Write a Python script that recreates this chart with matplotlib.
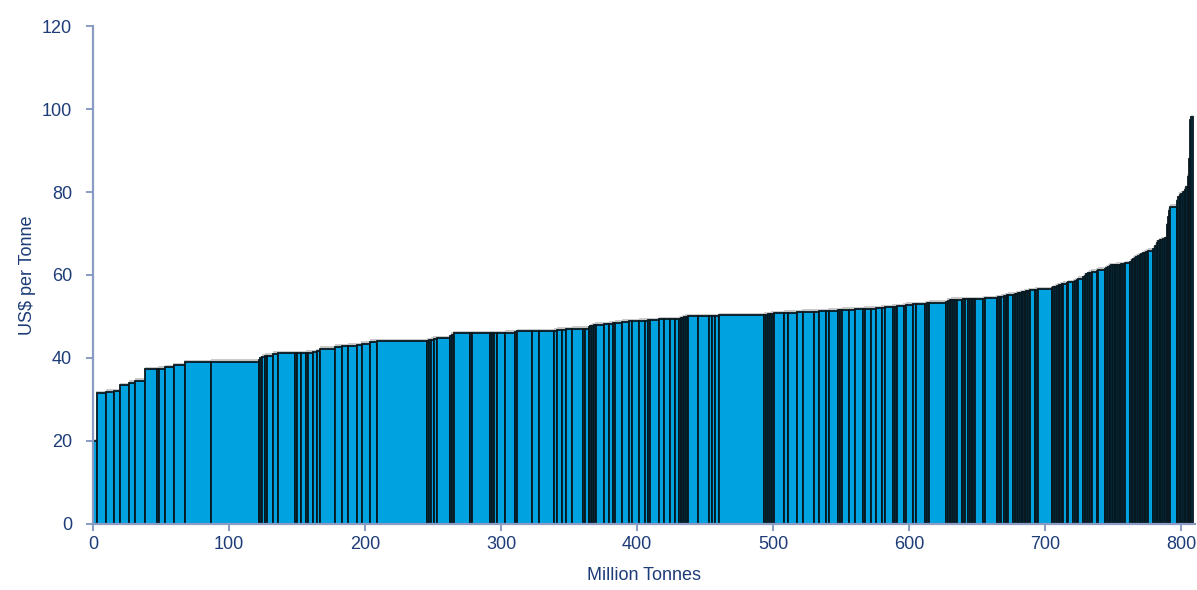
import numpy as np
import matplotlib
matplotlib.use("Agg")
import matplotlib.pyplot as plt

# Cumulative capacity (right edge of each bar, Million Tonnes) and cash cost (US$ per Tonne)
cum_capacity = [
    2.6, 9.6, 15.7, 19.9, 26.8, 31.2, 38.2, 47.0, 48.2, 53.1, 59.3, 67.4, 87.0, 122.0, 122.8,
    124.5, 126.5, 128.0, 132.6, 136.3, 148.5, 150.0, 152.7, 156.6, 158.0, 161.5, 164.5, 166.9,
    177.9, 182.9, 187.7, 193.9, 197.5, 203.7, 208.6, 245.6, 247.0, 248.5, 250.5, 253.0, 262.7,
    263.8, 265.2, 277.4, 279.0, 292.0, 293.2, 294.5, 297.1, 303.2, 310.5, 311.8, 322.8, 328.0,
    339.0, 341.4, 344.9, 347.6, 352.4, 360.0, 362.0, 364.7, 365.8, 367.0, 368.3, 369.6, 376.0,
    379.4, 382.5, 384.0, 389.2, 394.0, 396.0, 401.5, 406.0, 408.0, 409.5, 416.2, 420.0, 424.0,
    428.0, 430.9, 432.0, 433.2, 434.4, 435.8, 437.3, 445.0, 453.2, 455.0, 457.5, 460.5, 493.6,
    495.0, 496.0, 497.5, 499.0, 501.0, 508.0, 511.0, 518.0, 521.8, 530.0, 534.0, 539.0,
    541.0, 548.0, 549.5, 551.0, 556.0, 560.0, 566.0, 567.5, 572.0, 576.0, 580.0, 582.0, 588.0,
    589.5, 591.0, 596.0, 598.0, 603.0, 605.0, 612.0, 613.5, 615.0, 627.0, 628.5, 630.0,
    631.0, 632.5, 634.0, 635.0, 638.7, 639.8, 641.0, 643.5, 644.8, 646.0, 647.3, 648.5, 654.6,
    655.8, 664.4, 665.5, 666.8, 668.0, 669.5, 671.0, 672.0, 673.0, 676.6, 677.8, 679.0, 680.2,
    681.5, 682.8, 684.0, 685.0, 686.2, 687.8, 689.0, 692.6, 693.6, 694.8, 705.0, 706.2, 707.5,
    708.8, 710.0, 711.2, 712.4, 713.4, 715.9, 717.0, 720.8, 722.0, 723.2, 724.4, 728.0, 729.2,
    730.4, 731.6, 732.8, 734.2, 737.9, 739.1, 744.0, 745.2, 746.4, 747.6, 748.8, 750.0, 751.2,
    752.4, 753.6, 755.0, 756.2, 757.4, 758.7, 762.4, 763.6, 764.8, 766.0, 767.2, 768.4, 769.6,
    770.8, 772.0, 773.2, 774.6, 775.9, 779.6, 780.8, 782.0, 783.2, 784.4, 785.6, 787.0, 788.2,
    789.4, 790.4, 791.0, 791.8, 796.7, 797.8, 799.0, 800.2, 801.4, 802.6, 803.8, 805.0, 806.0,
    806.8, 807.6, 808.5,
]
cost = [
    20.0, 31.5, 31.9, 32.0, 33.5, 34.0, 34.5, 37.3, 37.3, 37.4, 37.8, 38.2, 39.0, 39.1, 39.4,
    39.9, 40.3, 40.5, 40.6, 41.0, 41.1, 41.1, 41.1, 41.2, 41.3, 41.3, 41.4, 41.6,
    42.2, 42.7, 42.8, 43.0, 43.1, 43.4, 43.9, 44.1, 44.2, 44.3, 44.4, 44.6, 44.7,
    45.3, 45.6, 46.0, 46.0, 46.0, 46.0, 46.0, 46.0, 46.0, 46.1, 46.2, 46.4, 46.4,
    46.4, 46.6, 46.8, 46.8, 46.9, 47.0, 47.0, 47.1, 47.4, 47.6, 47.8, 47.9, 48.0,
    48.1, 48.3, 48.4, 48.5, 48.7, 48.8, 48.9, 49.0, 49.0, 49.1, 49.1, 49.3, 49.4,
    49.4, 49.4, 49.5, 49.6, 49.7, 49.8, 49.9, 50.0, 50.0, 50.1, 50.1, 50.1, 50.3,
    50.4, 50.4, 50.5, 50.6, 50.7, 50.8, 50.9, 50.9, 51.0, 51.2, 51.2, 51.3,
    51.3, 51.4, 51.5, 51.5, 51.6, 51.6, 51.7, 51.8, 51.9, 51.9, 52.0, 52.1, 52.2,
    52.3, 52.4, 52.5, 52.6, 52.8, 52.9, 53.0, 53.1, 53.2, 53.3, 53.5, 53.8,
    53.9, 54.0, 54.0, 54.0, 54.0, 54.0, 54.1, 54.1, 54.1, 54.2, 54.2, 54.2, 54.2,
    54.3, 54.4, 54.5, 54.6, 54.7, 54.8, 54.9, 55.0, 55.1, 55.2, 55.3, 55.4, 55.5,
    55.6, 55.7, 55.8, 55.9, 56.0, 56.1, 56.2, 56.3, 56.4, 56.5, 56.6, 56.8, 57.0,
    57.2, 57.4, 57.6, 57.7, 57.8, 57.9, 58.0, 58.2, 58.4, 58.6, 58.8, 59.1, 59.5,
    59.8, 60.2, 60.4, 60.6, 60.8, 61.0, 61.3, 61.5, 61.8, 62.0, 62.2, 62.3, 62.4,
    62.4, 62.5, 62.5, 62.5, 62.6, 62.6, 62.8, 63.2, 63.6, 63.9, 64.2, 64.4, 64.6,
    64.8, 65.0, 65.2, 65.4, 65.6, 65.8, 66.3, 67.0, 67.8, 68.2, 68.4, 68.5, 68.6,
    68.8, 72.0, 74.0, 75.5, 76.5, 77.8, 78.8, 79.3, 79.6, 80.0, 80.5, 81.2, 83.7,
    88.0, 97.3, 98.0,
]
x_ticks = [0, 100, 200, 300, 400, 500, 600, 700, 800]
y_ticks = [0, 20, 40, 60, 80, 100, 120]

plt.rcParams['font.family'] = ['Liberation Sans', 'DejaVu Sans']

right = np.array(cum_capacity)
left = np.concatenate([[0.0], right[:-1]])
widths = right - left
heights = np.array(cost)

fig = plt.figure(figsize=(11.97, 5.90), dpi=100)
ax = fig.add_axes([0.0777, 0.1119, 0.9203, 0.844])

# soft shadow along the top edge
edges = np.concatenate([[0.0], right])
ax.stairs(heights + 0.35, edges + 0.5, baseline=None, color='#c4c4c4', lw=2, zorder=1)

ax.bar(left, heights, width=widths, align='edge', color='#00a2e0',
       edgecolor='#071820', linewidth=1.3, zorder=2)

ax.set_xlim(0, 810)
ax.set_ylim(0, 120)
ax.set_xticks(x_ticks)
ax.set_yticks(y_ticks)

spine_col = '#8a9cc4'
label_col = '#1d3c78'
for s in ['top', 'right']:
    ax.spines[s].set_visible(False)
for s in ['left', 'bottom']:
    ax.spines[s].set_color(spine_col)
    ax.spines[s].set_linewidth(1.6)
    ax.spines[s].set_zorder(3)
ax.tick_params(axis='both', direction='out', length=5, width=1.4, color=spine_col,
               labelcolor=label_col, labelsize=13, pad=4)
ax.tick_params(axis='y', pad=10)

ax.set_ylabel('US$ per Tonne', color=label_col, fontsize=13, labelpad=4)
ax.set_xlabel('Million Tonnes', color=label_col, fontsize=13, labelpad=10)

fig.savefig('out.png', dpi=100)
